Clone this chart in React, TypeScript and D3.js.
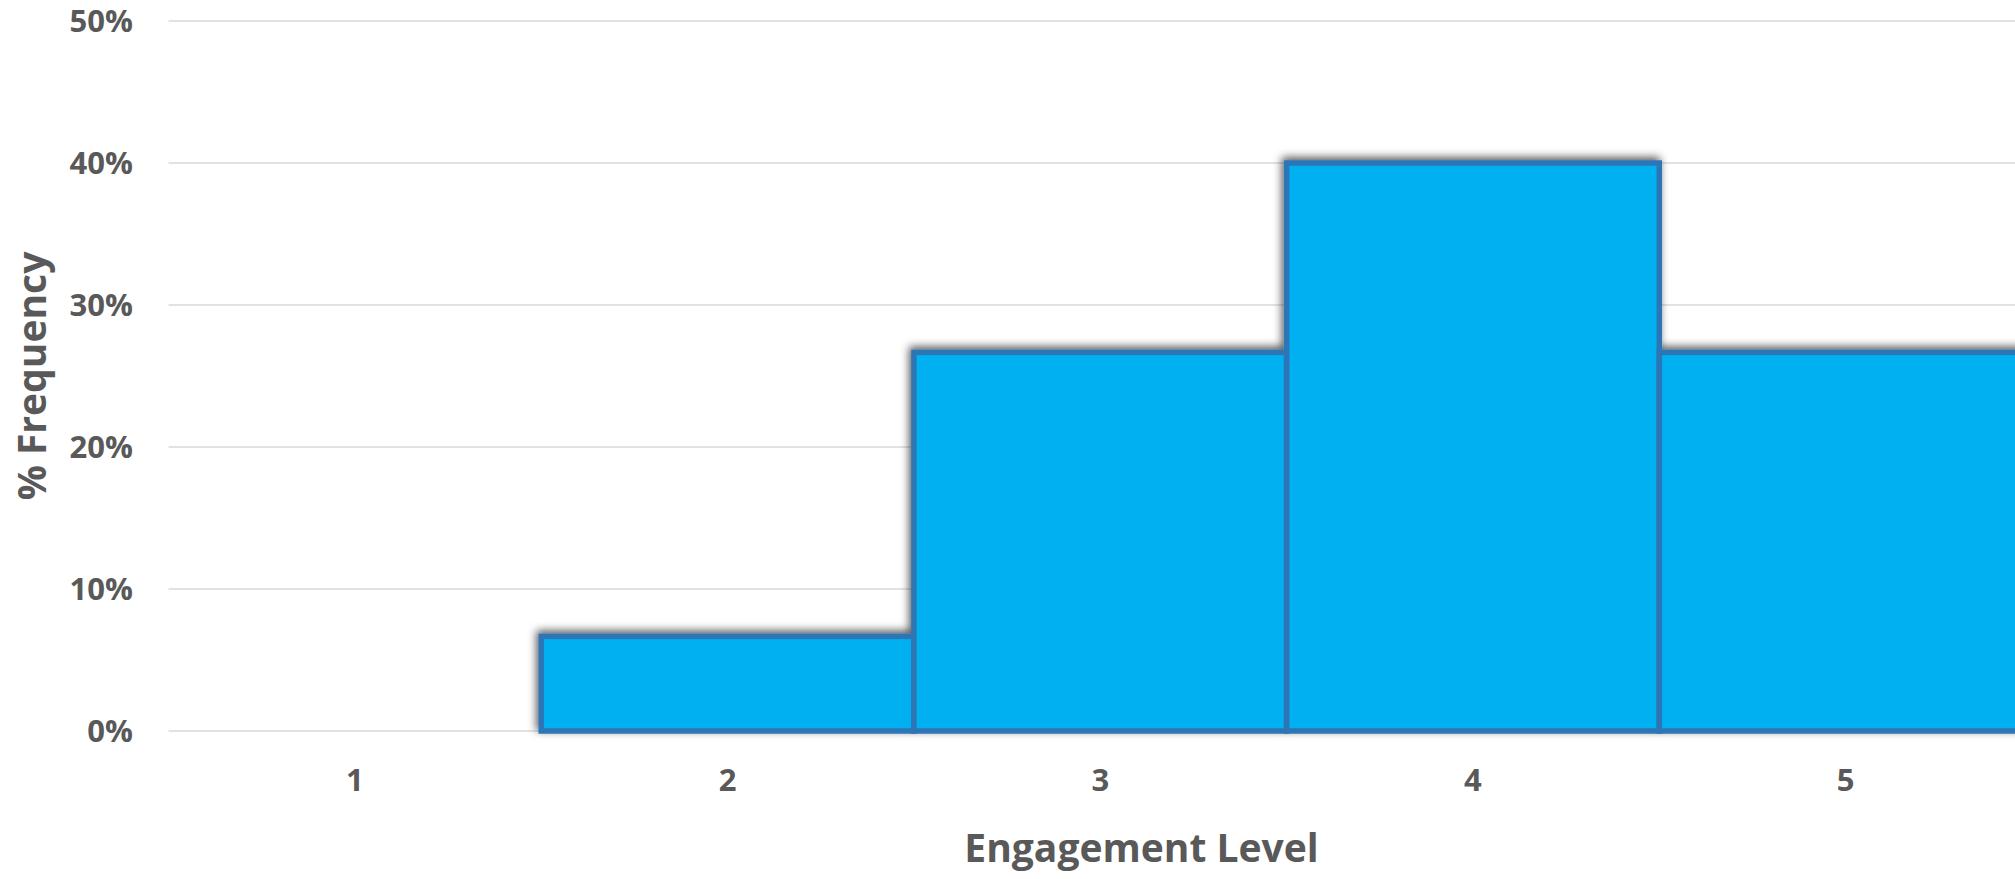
import React from "react";
import * as d3 from "d3";

const categories = ["1", "2", "3", "4", "5"];
const values = [0, 1 / 15, 4 / 15, 6 / 15, 4 / 15];
const yTicks = [0, 0.1, 0.2, 0.3, 0.4, 0.5];
const xTitle = "Engagement Level";
const yTitle = "% Frequency";

const W = 2015;
const H = 879;
const FONT = "'Open Sans', Lato, sans-serif";
const TEXT = "#595959";

export default function App() {
  const x = d3.scaleBand<string>().domain(categories).range([168.5, 2032]).padding(0);
  const y = d3.scaleLinear().domain([0, 0.5]).range([731, 21]);
  const fmt = d3.format(".0%");

  return (
    <svg
      width={W}
      height={H}
      style={{ position: "absolute", left: 0, top: 0, background: "#fff" }}
    >
      <defs>
        <filter id="shadow" x="-10%" y="-10%" width="120%" height="120%">
          <feDropShadow dx={-2} dy={-3} stdDeviation={4.5} floodColor="#000" floodOpacity={0.65} />
        </filter>
      </defs>
      {/* gridlines */}
      {yTicks.map((t) => (
        <line
          key={"g" + t}
          x1={168.5}
          x2={W}
          y1={y(t)}
          y2={y(t)}
          stroke="#D9D9D9"
          strokeWidth={1.6}
        />
      ))}
      {/* y labels */}
      {yTicks.map((t) => (
        <text
          key={"yl" + t}
          x={133}
          y={y(t) + 10.5}
          textAnchor="end"
          fontFamily={FONT}
          fontWeight={700}
          fontSize={31}
          fill={TEXT}
        >
          {fmt(t)}
        </text>
      ))}
      {/* bars */}
      <g filter="url(#shadow)">
        {categories.map((c, i) =>
          values[i] > 0 ? (
            <rect
              key={"b" + c}
              x={x(c)!}
              y={y(values[i])}
              width={x.bandwidth()}
              height={y(0) - y(values[i])}
              fill="#00B0F0"
              stroke="#2E75B6"
              strokeWidth={5.5}
            />
          ) : null
        )}
      </g>
      {/* x labels */}
      {categories.map((c) => (
        <text
          key={"xl" + c}
          x={x(c)! + x.bandwidth() / 2}
          y={791}
          textAnchor="middle"
          fontFamily={FONT}
          fontWeight={700}
          fontSize={31}
          fill={TEXT}
        >
          {c}
        </text>
      ))}
      {/* axis titles */}
      <text
        x={1141.5}
        y={862}
        textAnchor="middle"
        fontFamily={FONT}
        fontWeight={700}
        fontSize={39}
        fill={TEXT}
      >
        {xTitle}
      </text>
      <text
        transform="translate(46,376) rotate(-90)"
        textAnchor="middle"
        fontFamily={FONT}
        fontWeight={700}
        fontSize={39}
        fill={TEXT}
      >
        {yTitle}
      </text>
    </svg>
  );
}
